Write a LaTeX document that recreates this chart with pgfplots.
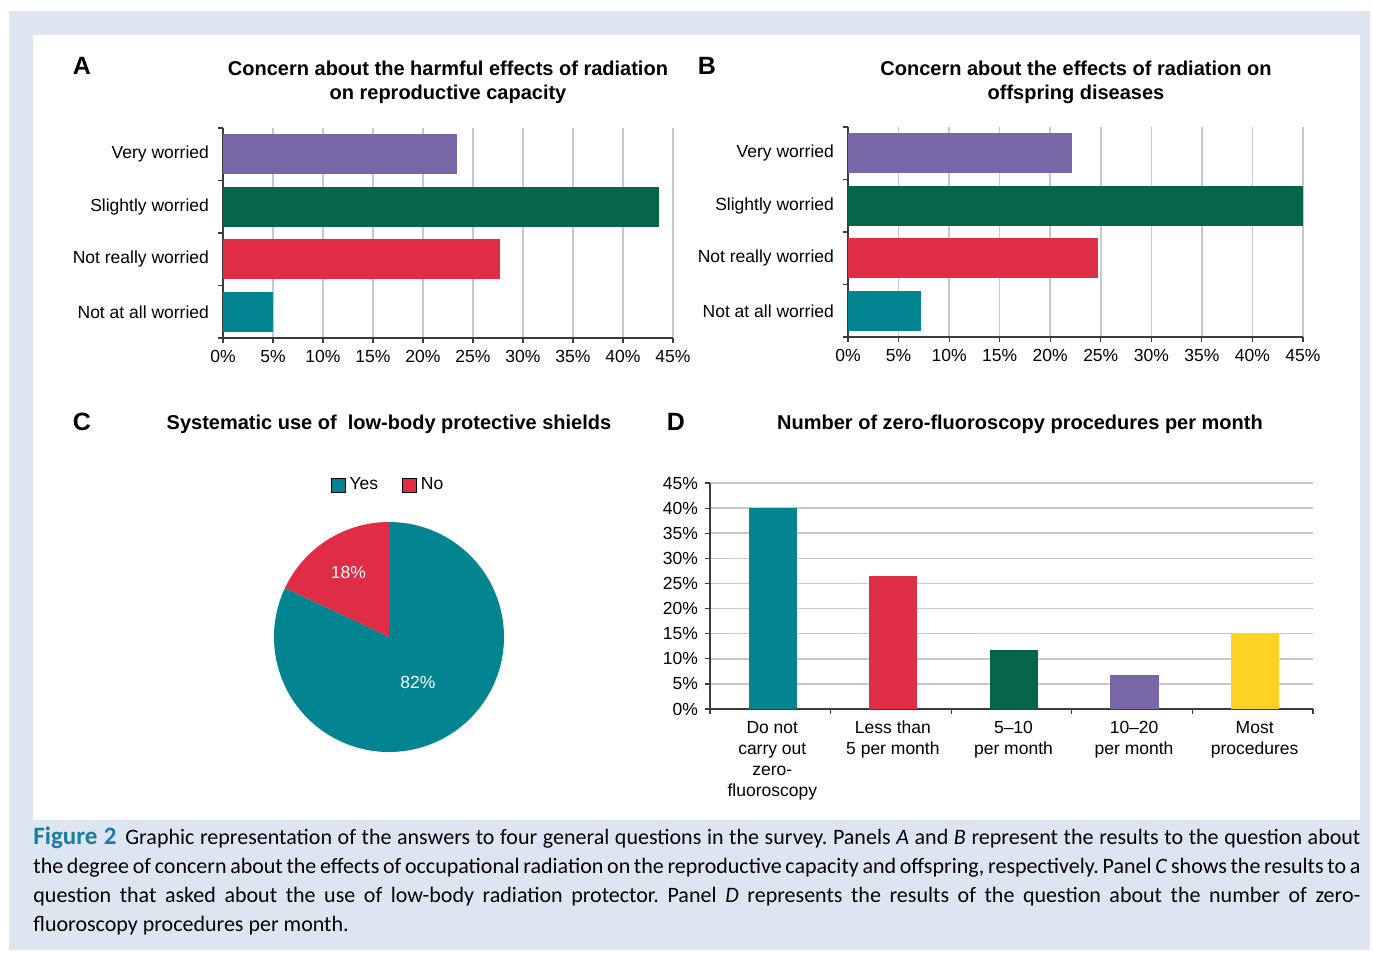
\documentclass[border=0pt]{standalone}
\usepackage{fontspec}
\setmainfont{Liberation Sans}
\newfontfamily\capfont{Carlito}
\usepackage{pgfplots}
\pgfplotsset{compat=1.18}

\definecolor{cpurple}{HTML}{7767A7}
\definecolor{cgreen}{HTML}{06644A}
\definecolor{cred}{HTML}{DF2D45}
\definecolor{cteal}{HTML}{028591}
\definecolor{cyellow}{HTML}{FDD223}
\definecolor{bgblue}{HTML}{DDE6F0}
\definecolor{figblue}{HTML}{1A7CA0}
\definecolor{gridgrey}{HTML}{C8C8C8}
\definecolor{axisgrey}{HTML}{3C3C3C}

\newcommand{\ticksize}{\fontsize{8.75}{10.5}\selectfont}
\newcommand{\titlesize}{\fontsize{10}{12}\selectfont\bfseries}
\newcommand{\lettersize}{\fontsize{12.5}{15}\selectfont\bfseries}

\pgfplotsset{
  surveybar/.style={
    scale only axis,
    axis lines=left,
    axis line style={-, draw=axisgrey, line width=0.75pt},
    tick align=outside,
    tick style={draw=axisgrey, line width=0.6pt},
    major tick length=2.5pt,
    minor tick length=2.5pt,
    tick label style={font=\ticksize},
    /pgf/number format/assume math mode=true,
    grid style={draw=gridgrey, line width=0.75pt},
  },
  concern/.style={
    surveybar,
    xbar,
    xmin=0, xmax=45,
    ymin=-0.5, ymax=3.5,
    xtick={0,5,...,45},
    xticklabels={0\%,5\%,10\%,15\%,20\%,25\%,30\%,35\%,40\%,45\%},
    ytick={0,1,2,3},
    yticklabels={Not at all worried,Not really worried,Slightly worried,Very worried},
    yticklabel style={xshift=-1pt},
    major y tick style={draw=none},
    minor ytick={-0.5,0.5,1.5,2.5,3.5},
    xmajorgrids,
    bar width=0.77,
    every axis plot/.append style={bar shift=0pt, draw=none},
  },
}

\begin{document}
\frenchspacing
\begin{tikzpicture}
\path (0,0) rectangle (686.5pt,-477.5pt);
\fill[bgblue] (4.5pt,-5.5pt) rectangle (685pt,-475pt);
\fill[white] (16.5pt,-17.5pt) rectangle (680pt,-410pt);

% panel A
\node[font=\lettersize] at (41pt,-33pt) {A};
\node[font=\titlesize, align=center] at (224pt,-41pt)
  {Concern about the harmful effects of radiation\\on reproductive capacity};
\begin{axis}[concern, at={(111.5pt,-169pt)}, anchor=south west,
  width=225pt, height=105pt]
\addplot[fill=cteal] coordinates {(5.0,0)};
\addplot[fill=cred] coordinates {(27.7,1)};
\addplot[fill=cgreen] coordinates {(43.6,2)};
\addplot[fill=cpurple] coordinates {(23.4,3)};
\end{axis}

% panel B
\node[font=\lettersize] at (353.5pt,-33pt) {B};
\node[font=\titlesize, align=center] at (538pt,-41pt)
  {Concern about the effects of radiation on\\offspring diseases};
\begin{axis}[concern, at={(424pt,-168.5pt)}, anchor=south west,
  width=227.5pt, height=105pt]
\addplot[fill=cteal] coordinates {(7.2,0)};
\addplot[fill=cred] coordinates {(24.7,1)};
\addplot[fill=cgreen] coordinates {(45.0,2)};
\addplot[fill=cpurple] coordinates {(22.2,3)};
\end{axis}

% panel C
\node[font=\lettersize] at (41pt,-211pt) {C};
\node[font=\titlesize] at (194.5pt,-212pt) {Systematic use of\ \ low-body protective shields};
\begin{axis}[at={(194.5pt,-318.5pt)}, anchor=center, scale only axis,
  width=115pt, height=115pt, xmin=-1, xmax=1, ymin=-1, ymax=1, hide axis,
  legend style={at={(0.5,1.16)}, anchor=center, draw=none, fill=none,
    font=\ticksize, legend columns=2,
    /tikz/every even column/.append style={column sep=10pt}},
  legend image code/.code={\fill[#1] (0pt,-3.5pt) rectangle (7pt,3.5pt);}]
\addlegendimage{fill=cteal}\addlegendentry{Yes}
\addlegendimage{fill=cred}\addlegendentry{No}
\pgfmathsetmacro\yesval{82}
\pgfmathsetmacro\noval{18}
\pgfmathsetmacro\noang{\noval*3.6}
\pgfmathsetmacro\yesang{\yesval*3.6}
\fill[cred] (0,0) -- (90:1) arc[start angle=90, delta angle=\noang, radius=1] -- cycle;
\fill[cteal] (0,0) -- ({90+\noang}:1) arc[start angle={90+\noang}, delta angle=\yesang, radius=1] -- cycle;
\node[white, font=\ticksize] at ({90+\noang/2}:0.66) {18\%};
\node[white, font=\ticksize] at ({90+\noang+\yesang/2}:0.47) {82\%};
\end{axis}

% panel D
\node[font=\lettersize] at (338pt,-211pt) {D};
\node[font=\titlesize] at (510pt,-212pt) {Number of zero-fluoroscopy procedures per month};
\begin{axis}[surveybar, ybar, at={(355pt,-354.5pt)}, anchor=south west,
  width=301.5pt, height=113pt,
  xmin=-0.5, xmax=4.5, ymin=0, ymax=45,
  ytick={0,5,...,45},
  yticklabels={0\%,5\%,10\%,15\%,20\%,25\%,30\%,35\%,40\%,45\%},
  ymajorgrids,
  xtick={0,1,2,3,4},
  xticklabels={{Do not\\carry out\\zero-\\fluoroscopy},{Less than\\5 per month},{5--10\\per month},{10--20\\per month},{Most\\procedures}},
  xticklabel style={align=center, xshift=1pt},
  major x tick style={draw=none},
  minor xtick={-0.5,0.5,1.5,2.5,3.5,4.5},
  bar width=0.4,
  every axis plot/.append style={bar shift=1.2pt, draw=none}]
\addplot[fill=cteal] coordinates {(0,40.0)};
\addplot[fill=cred] coordinates {(1,26.4)};
\addplot[fill=cgreen] coordinates {(2,11.8)};
\addplot[fill=cpurple] coordinates {(3,6.8)};
\addplot[fill=cyellow] coordinates {(4,15.2)};
\end{axis}

% caption
\node[anchor=north west, inner sep=0pt, text width=663.5pt, align=justify,
  font=\capfont\fontsize{11}{14.5}\selectfont] at (16.5pt,-413.5pt)
{{\color{figblue}\bfseries\fontsize{12.5}{14.5}\selectfont Figure 2}\hspace{0.4em}Graphic representation of the answers to four general questions in the survey. Panels \textit{A} and \textit{B} represent the results to the question about\linebreak
the degree of concern about the effects of occupational radiation on the reproductive capacity and offspring, respectively. Panel \textit{C} shows the results to a\linebreak
question that asked about the use of low-body radiation protector. Panel \textit{D} represents the results of the question about the number of zero-\linebreak
fluoroscopy procedures per month.};
\end{tikzpicture}
\end{document}
